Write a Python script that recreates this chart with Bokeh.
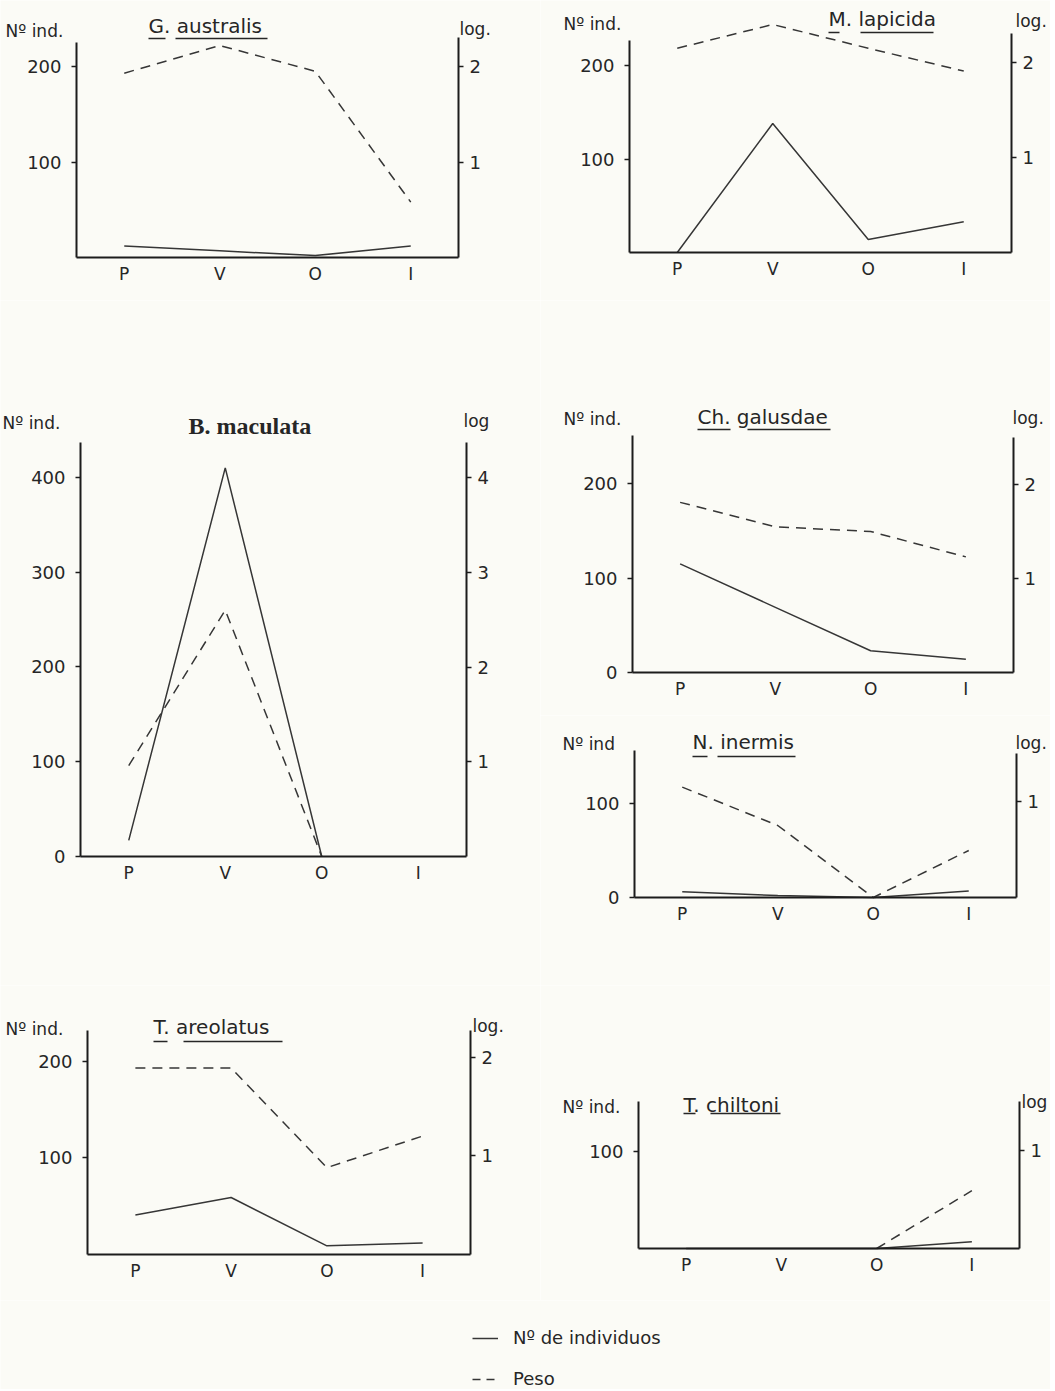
import numpy as np
from bokeh.plotting import figure
from bokeh.models import (Range1d, LinearAxis, FixedTicker, Label,
                          ColumnDataSource, Legend, LegendItem)
from bokeh.layouts import row, column
from bokeh.embed import file_html
from bokeh.resources import INLINE

nan = np.nan

# ---------------- data ----------------
seasons = ["P", "V", "O", "I"]

g_australis_ind = [12, 7, 2, 12]
g_australis_log = [1.93, 2.22, 1.95, 0.58]

m_lapicida_ind = [0, 138, 14, 33]
m_lapicida_log = [2.15, 2.40, 2.15, 1.91]

b_maculata_ind = [17, 410, 0, nan]
b_maculata_log = [0.96, 2.60, 0.0, nan]

ch_galusdae_ind = [115, 69, 23, 14]
ch_galusdae_log = [1.81, 1.55, 1.50, 1.23]

n_inermis_ind = [6, 2, 0, 7]
n_inermis_log = [1.15, 0.75, 0.0, 0.49]

t_areolatus_ind = [41, 59, 9, 12]
t_areolatus_log = [1.89, 1.89, 0.88, 1.20]

t_chiltoni_ind = [0, 0, 0, 7]
t_chiltoni_log = [nan, nan, 0.0, 0.59]

ticks_ind_200 = [100, 200]
ticks_ind_400z = [0, 100, 200, 300, 400]
ticks_ind_200z = [0, 100, 200]
ticks_ind_100z = [0, 100]
ticks_ind_100 = [100]
ticks_log_2 = [1, 2]
ticks_log_4 = [1, 2, 3, 4]
ticks_log_1 = [1]

legend_labels = ["Nº de individuos", "Peso"]

# ---------------- style ----------------
BG = "#fbfbf6"
AX = "#1c1c1c"
LN = "#363636"
TX = "#262626"
FONT = "DejaVu Sans"
DASH = "10 7"

season_pos = list(range(len(seasons)))
season_labels = {i: s for i, s in zip(season_pos, seasons)}
X_LO, X_HI = -0.5, len(seasons) - 0.5


def style_axis(ax, size="18px"):
    ax.axis_line_color = AX
    ax.axis_line_width = 2
    ax.major_tick_line_color = AX
    ax.major_tick_line_width = 1.5
    ax.major_tick_in = 0
    ax.major_tick_out = 5
    ax.minor_tick_line_color = None
    ax.major_label_text_font = FONT
    ax.major_label_text_font_size = size
    ax.major_label_text_color = TX


def panel(g, ind, logv, lticks, rticks, texts, uline_y=None, ulines=()):
    bx0, by0, bx1, by1 = g["box"]
    fl, fr, fb = g["axes"]
    lppu, rppu = g["lppu"], g["rppu"]
    xppu = (fr - fl) / len(seasons)

    def X(px):
        return (px - fl) / xppu + X_LO

    def Y(py):
        return (fb - py) / lppu

    p = figure(width=bx1 - bx0, height=by1 - by0,
               x_range=Range1d(X(bx0), X(bx1)),
               y_range=Range1d(Y(by1), Y(by0)),
               x_axis_location=None, y_axis_location=None,
               output_backend="svg", toolbar_location=None,
               min_border_left=0, min_border_right=0, min_border_top=0, min_border_bottom=0,
               background_fill_color=BG, border_fill_color=BG, outline_line_color=None)
    p.grid.visible = False

    xa = LinearAxis(ticker=FixedTicker(ticks=season_pos), major_label_overrides=season_labels,
                    fixed_location=0, bounds=(X_LO, X_HI))
    style_axis(xa, "17px")
    xa.major_tick_line_color = None
    xa.major_tick_out = 0
    xa.major_label_standoff = 6
    p.add_layout(xa, "below")

    la = LinearAxis(ticker=FixedTicker(ticks=lticks), fixed_location=X_LO,
                    bounds=(0, (fb - g["ltop"]) / lppu))
    style_axis(la)
    la.major_label_standoff = 10
    p.add_layout(la, "left")

    p.extra_y_ranges = {"log": Range1d((fb - by1) / rppu, (fb - by0) / rppu)}
    ra = LinearAxis(y_range_name="log", ticker=FixedTicker(ticks=rticks), fixed_location=X_HI,
                    bounds=(0, (fb - g["rtop"]) / rppu))
    style_axis(ra)
    ra.major_label_standoff = 6
    p.add_layout(ra, "right")

    src = ColumnDataSource(data=dict(x=season_pos,
                                     ind=np.array(ind, dtype=float),
                                     log=np.array(logv, dtype=float)))
    p.line("x", "ind", source=src, line_color=LN, line_width=1.5)
    p.line("x", "log", source=src, y_range_name="log", line_color=LN,
           line_width=1.5, line_dash=DASH)

    for t, lx, cy, size, font, style in texts:
        p.add_layout(Label(x=X(lx), y=Y(cy), text=t, text_font=font,
                           text_font_size=size, text_font_style=style,
                           text_color=TX, text_baseline="middle", text_align="left"))
    if ulines:
        p.segment(x0=[X(a) for a, b in ulines], y0=[Y(uline_y)] * len(ulines),
                  x1=[X(b) for a, b in ulines], y1=[Y(uline_y)] * len(ulines),
                  line_color=TX, line_width=1.5)
    return p


def T(text, lx, cy, size="17px", font=FONT, style="normal"):
    return (text, lx, cy, size, font, style)


f1 = panel(dict(box=(0, 0, 540, 300), axes=(76, 458, 257), lppu=0.955, rppu=95.5,
                ltop=41.7, rtop=36.7),
           g_australis_ind, g_australis_log, ticks_ind_200, ticks_log_2,
           [T("Nº ind.", 5, 30), T("G. australis", 148, 25, "20px"), T("log.", 459, 28)],
           38, [(148, 165), (175, 267)])

f2 = panel(dict(box=(540, 0, 1050, 300), axes=(629, 1011, 252), lppu=0.935, rppu=95,
                ltop=40, rtop=33),
           m_lapicida_ind, m_lapicida_log, ticks_ind_200, ticks_log_2,
           [T("Nº ind.", 563, 23), T("M. lapicida", 828, 18, "20px"), T("log.", 1015, 20)],
           32, [(828, 839), (860, 933)])

f3 = panel(dict(box=(0, 300, 540, 985), axes=(80, 466, 856), lppu=0.948, rppu=94.75,
                ltop=441.7, rtop=441.7),
           b_maculata_ind, b_maculata_log, ticks_ind_400z, ticks_log_4,
           [T("Nº ind.", 2, 422), T("B. maculata", 188, 425, "24px", "Liberation Serif", "bold"),
            T("log", 463, 420)])

f4 = panel(dict(box=(540, 300, 1050, 715), axes=(632, 1013, 672), lppu=0.944, rppu=94,
                ltop=435, rtop=436.7),
           ch_galusdae_ind, ch_galusdae_log, ticks_ind_200z, ticks_log_2,
           [T("Nº ind.", 563, 418), T("Ch. galusdae", 697, 416, "20px"), T("log.", 1012, 417)],
           429, [(697, 730), (747, 830)])

f5 = panel(dict(box=(540, 715, 1050, 985), axes=(634, 1016, 897), lppu=0.943, rppu=96,
                ltop=750, rtop=752.7),
           n_inermis_ind, n_inermis_log, ticks_ind_100z, ticks_log_1,
           [T("Nº ind", 562, 743), T("N. inermis", 692, 741, "20px"), T("log.", 1015, 742)],
           756, [(692, 707), (717, 795)])

f6 = panel(dict(box=(0, 985, 540, 1300), axes=(87, 470, 1254), lppu=0.966, rppu=98.7,
                ltop=1030, rtop=1030),
           t_areolatus_ind, t_areolatus_log, ticks_ind_200, ticks_log_2,
           [T("Nº ind.", 5, 1028), T("T. areolatus", 153, 1026, "20px"), T("log.", 472, 1025)],
           1041, [(153, 167), (183, 282)])

f7 = panel(dict(box=(540, 985, 1050, 1300), axes=(638, 1019, 1248), lppu=0.97, rppu=98,
                ltop=1100.7, rtop=1100.7),
           t_chiltoni_ind, t_chiltoni_log, ticks_ind_100, ticks_log_1,
           [T("Nº ind.", 562, 1106), T("T. chiltoni", 683, 1104, "20px"), T("log", 1021, 1101)],
           1113, [(683, 695), (710, 780)])

# legend strip
lg = figure(width=1050, height=89, x_range=Range1d(0, 1050), y_range=Range1d(0, 89),
            x_axis_location=None, y_axis_location=None, output_backend="svg",
            toolbar_location=None, min_border=0,
            background_fill_color=BG, border_fill_color=BG, outline_line_color=None)
lg.grid.visible = False
r1 = lg.line(x=[-20, -10], y=[-20, -20], line_color=LN, line_width=1.5)
r2 = lg.line(x=[-20, -10], y=[-20, -20], line_color=LN, line_width=1.5, line_dash="8 6")
leg = Legend(items=[LegendItem(label=legend_labels[0], renderers=[r1]),
                    LegendItem(label=legend_labels[1], renderers=[r2])],
             location=(472, 0), orientation="vertical",
             glyph_width=26, glyph_height=20, label_height=20, spacing=20,
             label_standoff=15, padding=0, margin=0,
             border_line_color=None, background_fill_alpha=0,
             label_text_font=FONT, label_text_font_size="18px", label_text_color=TX)
lg.add_layout(leg)

layout = column(row(f1, f2), row(f3, column(f4, f5)), row(f6, f7), lg)

open("out.html", "w").write(file_html(layout, INLINE, "Figura"))
